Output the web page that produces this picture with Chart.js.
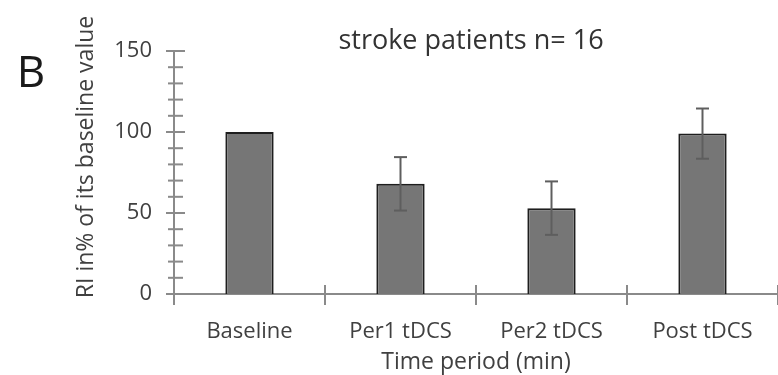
<!DOCTYPE html>
<html>
<head>
<meta charset="utf-8">
<script src="https://cdn.jsdelivr.net/npm/chart.js@4/dist/chart.umd.min.js"></script>
<style>
  html, body { margin: 0; padding: 0; background: #fff; }
  canvas { display: block; }
</style>
</head>
<body>
<canvas id="riChart" width="778" height="375"></canvas>
<script>
// RI relative to baseline, stroke patients
var periods = ["Baseline", "Per1 tDCS", "Per2 tDCS", "Post tDCS"];
var meanRI = [100, 68, 53, 99];
var errRI = [0, 16.5, 16.5, 15.5];
var yMax = 150;
var yMajor = 50;
var yMinor = 10;

var textColor = '#404040';
var axisColor = '#8a8a8a';
var fontName = "'Open Sans', sans-serif";

function line(ctx, x1, y1, x2, y2) {
  ctx.beginPath();
  ctx.moveTo(x1, y1);
  ctx.lineTo(x2, y2);
  ctx.stroke();
}

// axes with ticks that cross the line
var axisPlugin = {
  id: 'axisMarks',
  beforeDatasetsDraw: function (chart) {
    var ctx = chart.ctx;
    var xs = chart.scales.x, ys = chart.scales.y;
    var x0 = xs.getPixelForValue(-0.5);
    var y0 = ys.getPixelForValue(0);
    ctx.save();
    ctx.strokeStyle = axisColor;
    ctx.lineWidth = 2;
    line(ctx, x0, ys.getPixelForValue(yMax), x0, y0);
    line(ctx, x0, y0, chart.width, y0);
    for (var v = 0; v <= yMax; v += yMinor) {
      var py = ys.getPixelForValue(v);
      if (v % yMajor === 0) line(ctx, x0 - 8, py, x0 + 11, py);
      else line(ctx, x0 - 6, py, x0 + 9, py);
    }
    for (var i = 0; i <= periods.length; i++) {
      var px = xs.getPixelForValue(i - 0.5);
      line(ctx, px, y0 - 9, px, y0 + 11);
    }
    ctx.restore();
  },
  afterDatasetsDraw: function (chart) {
    // error bars
    var ctx = chart.ctx;
    var ys = chart.scales.y;
    var bars = chart.getDatasetMeta(0).data;
    ctx.save();
    ctx.strokeStyle = '#5e5e5e';
    ctx.lineWidth = 2;
    bars.forEach(function (bar, i) {
      if (!errRI[i]) return;
      var top = ys.getPixelForValue(meanRI[i] + errRI[i]);
      var bot = ys.getPixelForValue(meanRI[i] - errRI[i]);
      line(ctx, bar.x, top, bar.x, bot);
      line(ctx, bar.x - 6.5, top, bar.x + 6.5, top);
      line(ctx, bar.x - 6.5, bot, bar.x + 6.5, bot);
    });
    ctx.restore();
  },
  afterDraw: function (chart) {
    var ctx = chart.ctx;
    ctx.save();
    ctx.fillStyle = '#333333';
    ctx.textAlign = 'center';
    ctx.textBaseline = 'middle';
    ctx.font = "27px " + fontName;
    ctx.fillText('stroke patients n= 16', 471, 41);

    ctx.fillStyle = '#1a1a1a';
    ctx.font = "44px " + fontName;
    ctx.fillText('B', 31, 74);

    ctx.fillStyle = textColor;
    ctx.font = "23px " + fontName;
    ctx.translate(86, 157);
    ctx.rotate(-Math.PI / 2);
    ctx.fillText('RI in% of its baseline value', 0, 0);
    ctx.restore();
  }
};

new Chart(document.getElementById('riChart'), {
  type: 'bar',
  data: {
    labels: periods,
    datasets: [{
      data: meanRI,
      backgroundColor: '#767676',
      borderColor: '#1e1e1e',
      borderWidth: 2,
      barPercentage: 0.32,
      categoryPercentage: 1
    }]
  },
  options: {
    responsive: false,
    animation: false,
    layout: { padding: { top: 51, right: 0, bottom: 0, left: 0 } },
    plugins: {
      legend: { display: false },
      tooltip: { enabled: false }
    },
    scales: {
      x: {
        grid: { display: false, drawTicks: false },
        border: { display: false },
        ticks: {
          color: textColor,
          font: { family: fontName, size: 22 },
          padding: 25,
          maxRotation: 0
        },
        title: {
          display: true,
          text: 'Time period (min)',
          color: textColor,
          font: { family: fontName, size: 23, lineHeight: 1.0 },
          padding: { top: 0, bottom: 1 }
        },
        afterFit: function (scale) { scale.height = 81; }
      },
      y: {
        min: 0,
        max: yMax,
        grid: { display: false, drawTicks: false },
        border: { display: false },
        ticks: {
          stepSize: yMajor,
          color: textColor,
          font: { family: fontName, size: 22 },
          padding: 22
        },
        afterFit: function (scale) { scale.width = 174; }
      }
    }
  },
  plugins: [axisPlugin]
});
</script>
</body>
</html>
